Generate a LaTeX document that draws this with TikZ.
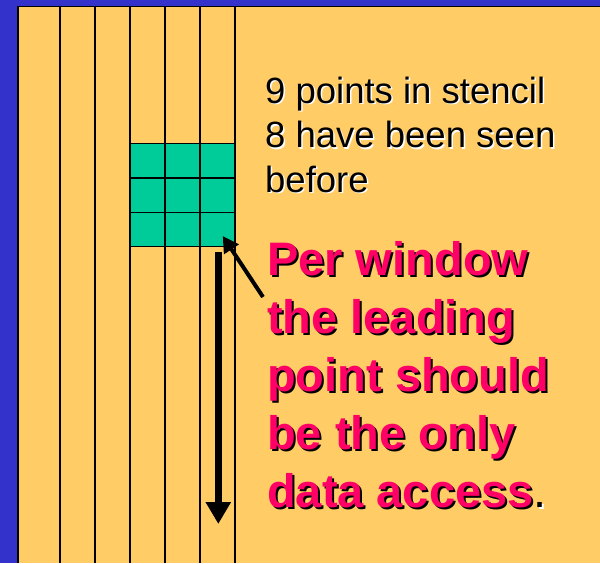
\documentclass[tikz,border=0pt]{standalone}
\usepackage{fontspec}
\setmainfont{Liberation Sans}
\usetikzlibrary{arrows.meta}
\definecolor{bgblue}{HTML}{3333CC}
\definecolor{bgorange}{HTML}{FFCC66}
\definecolor{cellgreen}{HTML}{00CC99}
\definecolor{hotred}{HTML}{FF0066}
\begin{document}
\begin{tikzpicture}[x=1pt,y=-1pt,
  gridline/.style={draw=black,line width=1.5pt},
  cell/.style={draw=black,line width=1.5pt,fill=cellgreen,minimum width=35pt,minimum height=34.4pt,inner sep=0pt,outer sep=0pt},
  plaintext/.style={anchor=base west,align=left,inner sep=0pt,font=\fontsize{36.5}{44.5}\selectfont},
  boldtext/.style={anchor=base west,align=left,inner sep=0pt,font=\fontsize{47}{58}\selectfont\bfseries},
  pointer/.style={draw=black,line width=4pt,-{Triangle[length=16pt,width=17pt]}},
  downarrow/.style={draw=black,line width=7pt,-{Triangle[length=22pt,width=24pt]}}]
\useasboundingbox (0,0) rectangle (600,563);
\fill[bgblue] (0,0) rectangle (600,563);
\fill[bgorange] (18,6.5) rectangle (600,563);
\foreach \x in {60,95,130,165,200,235} \draw[gridline] (\x,6.5) -- (\x,563);
\draw[line width=1.5pt] (18,563) -- (18,6.5) -- (600,6.5);
\foreach \r in {1,2,3} \foreach \c in {1,2,3}
  \node[cell] (c\r\c) at ({130+35*(\c-1)+17.5},{143.5+34.4*(\r-1)+17.2}) {};
% black text with white shadow
\node[plaintext,text=white] (t1sh) at (266.5,193.5) {9 points in stencil\\8 have been seen\\before};
\node[plaintext,text=black] (t1) at (265,192) {9 points in stencil\\8 have been seen\\before};
% red bold text with black shadow
\node[boldtext,text=black] (t2sh) at (269,509) {Per window\\the leading\\point should\\be the only\\data access{\color{white}\mdseries.}};
\node[boldtext,text=hotred] (t2) at (267,507) {Per window\\the leading\\point should\\be the only\\data access{\color{black}\mdseries.}};
% arrows
\coordinate (ptail) at (263,297);
\coordinate (ptip) at (222.7,236);
\draw[pointer] (ptail) -- (ptip);
\coordinate (dstart) at (218.3,252);
\coordinate (dend) at (218.3,524);
\draw[downarrow] (dstart) -- (dend);
\end{tikzpicture}
\end{document}
